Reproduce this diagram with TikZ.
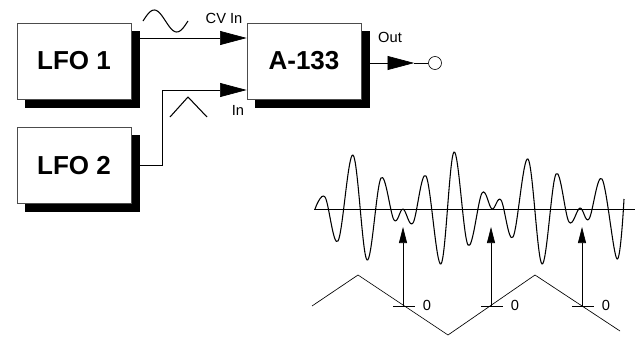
\documentclass[tikz,border=0pt]{standalone}
\usepackage{fontspec}
\setmainfont{Liberation Sans}
\usetikzlibrary{arrows.meta, calc, positioning, shadows}

\begin{document}
\begin{tikzpicture}[
    x=0.75pt, y=-0.75pt,
    module/.style={
        draw=black!70,
        line width=0.5pt,
        fill=white,
        minimum width=85.5pt,
        minimum height=57pt,
        font=\bfseries\fontsize{19.5}{22}\selectfont,
        general shadow={fill=black, draw=black, shadow xshift=6pt, shadow yshift=-6pt}
    },
    patch/.style={draw=black, line width=0.5pt},
    bigtip/.style={-{Triangle[length=20pt, width=10.5pt]}},
    tag/.style={font=\fontsize{11}{12}\selectfont, inner sep=0pt},
    wave/.style={line width=0.8pt, line join=round}
]
\useasboundingbox (0,0) rectangle (635,336);

% modules
\node[module] (lfo1) at (74,61) {LFO 1};
\node[module] (lfo2) at (74,165.5) {LFO 2};
\node[module] (a133) at (304,61) {A-133};
\node[draw, circle, minimum size=9.75pt, inner sep=0pt, line width=0.5pt] (jack) at (435,63) {};

% patch cables
\draw[patch, bigtip] ([xshift=6pt, yshift=17.25pt]lfo1.east) -- ([yshift=17.25pt]a133.west);
\draw[patch, bigtip] ([xshift=6pt]lfo2.east) -- ++(17.25pt,0) |- ([yshift=-21.75pt]a133.west);
\coordinate (outtip) at ($(jack.west)+(-14,0)$);
\draw[patch, bigtip] ([xshift=6pt, yshift=-1.5pt]a133.east) -- (outtip);
\draw[patch] (outtip) -- (jack.west);

\node[tag] (cvin) at (224,18) {CV In};
\node[tag] (in) at (238,110) {In};
\node[tag] (out) at (390,37) {Out};

% waveform symbols
\draw[wave] plot[domain=0:360, samples=40] ({143+\x/8}, {21-11*sin(\x)});
\draw[wave] (170,117) -- (188,97) -- (207,117);

% output signal
\draw[patch] (314,209) -- (635,209);
\draw[wave] plot[smooth, tension=0.6] coordinates {
    (315,209) (325,197) (338,241) (353,155) (367,260) (381,178) (394,220)
    (403,209) (413,223) (426,176) (441,264) (454,152) (468,245) (482,193)
    (492,209) (501,200) (513,237) (528,159) (542,264) (556,174) (569,222)
    (580,208) (589,219) (602,179) (617,259) (624,199)};

% triangle from LFO 2 and zero crossings
\draw[patch] (312,306) -- (358,275) -- (448,335) -- (535,275) -- (620,331);
\foreach \px/\nm in {403/a, 491/b, 582/c} {
    \coordinate (z\nm) at (\px,306);
    \coordinate (t\nm) at (\px,227);
    \draw[patch] ($(z\nm)+(-10,0)$) -- ($(z\nm)+(12,0)$);
    \draw[patch, -{Triangle[length=12pt, width=6pt]}] (z\nm) -- (t\nm);
    \node[tag] (zero\nm) at ($(z\nm)+(24,-1)$) {0};
}
\end{tikzpicture}
\end{document}
